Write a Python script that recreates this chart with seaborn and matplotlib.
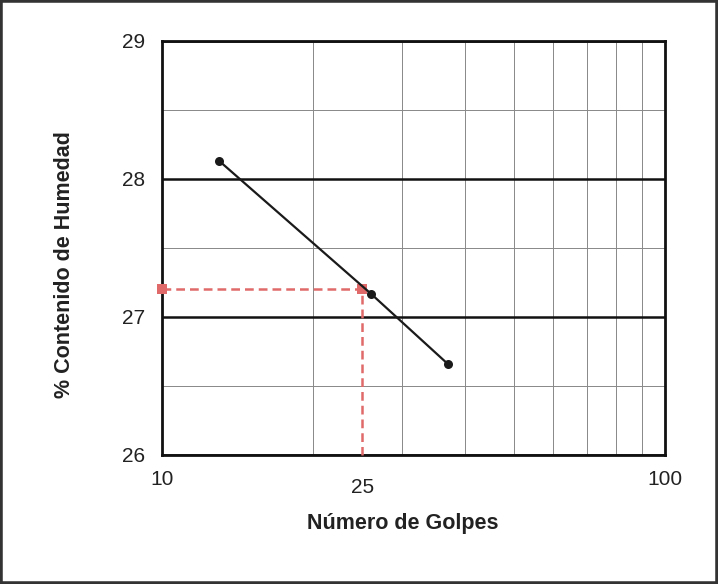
import numpy as np
import pandas as pd
import seaborn as sns
from matplotlib import pyplot as plt
from matplotlib.ticker import FixedLocator, LogLocator, NullFormatter
from matplotlib.patches import Rectangle

sns.set_style("white")
plt.rcParams["font.family"] = ["Liberation Sans", "DejaVu Sans"]

# ensayo de limite liquido
golpes = [13.0, 26.0, 37.0]
humedad = [28.13, 27.17, 26.66]

# lectura a 25 golpes
guia_x = [10, 25, 25]
guia_y = [27.2, 27.2, 26.0]

df = pd.DataFrame({"golpes": golpes, "humedad": humedad})
guia = pd.DataFrame({"x": guia_x, "y": guia_y})

fig = plt.figure(figsize=(7.18, 5.84), dpi=100)
ax = fig.add_axes([0.2256, 0.2209, 0.7005, 0.709])

sns.lineplot(data=guia, x="x", y="y", ax=ax, color="#e06a6a", linestyle=(0, (3.5, 2)),
             linewidth=1.8, marker="s", markersize=7, markevery=[0, 1],
             markeredgewidth=0, sort=False, estimator=None, errorbar=None,
             zorder=3, clip_on=False)
sns.lineplot(data=df, x="golpes", y="humedad", ax=ax, color="#1a1a1a", linewidth=1.6,
             marker="o", markersize=6.5, markeredgewidth=0, zorder=4)

ax.set_xscale("log")
ax.set_xlim(10, 100)
ax.set_ylim(26, 29)

ax.xaxis.set_major_locator(FixedLocator([10, 100]))
ax.set_xticklabels(["10", "100"])
ax.xaxis.set_minor_locator(LogLocator(base=10, subs=np.arange(2, 10)))
ax.xaxis.set_minor_formatter(NullFormatter())
ax.yaxis.set_major_locator(FixedLocator([26, 27, 28, 29]))
ax.yaxis.set_minor_locator(FixedLocator([26.5, 27.5, 28.5]))

ax.grid(which="major", axis="y", color="#111111", linewidth=1.8)
ax.grid(which="minor", axis="y", color="#888888", linewidth=0.7)
ax.grid(which="minor", axis="x", color="#888888", linewidth=0.7)
ax.grid(which="major", axis="x", visible=False)

ax.tick_params(axis="both", which="major", direction="out", length=5, width=1.2,
               labelsize=15, color="#111111", labelcolor="#222222", pad=6)
ax.tick_params(axis="x", which="minor", length=0)
ax.tick_params(axis="y", which="minor", length=0)
ax.tick_params(axis="y", which="major", pad=7)

ax.text(25, -0.055, "25", transform=ax.get_xaxis_transform(), ha="center", va="top",
        fontsize=15, color="#222222")

for s in ax.spines.values():
    s.set_color("#111111")
    s.set_linewidth(2.0)

ax.set_xlabel("Número de Golpes", fontsize=15.5, fontweight="bold", color="#222222")
ax.set_ylabel("% Contenido de Humedad", fontsize=15.5, fontweight="bold", color="#222222")
ax.xaxis.set_label_coords(0.478, -0.14)
ax.yaxis.set_label_coords(-0.172, 0.46)

fig.patches.append(Rectangle((0, 0), 1, 1, transform=fig.transFigure, fill=False,
                             edgecolor="#333333", linewidth=4))

fig.savefig("out.png", dpi=100)
